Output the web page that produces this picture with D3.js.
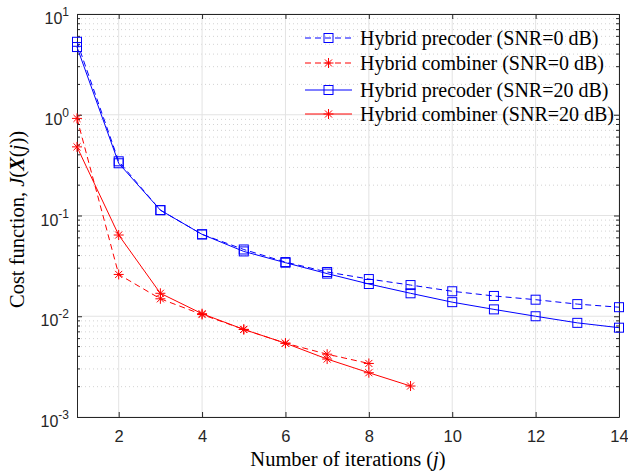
<!DOCTYPE html>
<html>
<head>
<meta charset="utf-8">
<script src="https://cdn.jsdelivr.net/npm/d3@7"></script>
<style>
  body { margin: 0; background: #fff; }
</style>
</head>
<body>
<div id="chart"></div>
<script>
const width = 628
const height = 472
const margin = {top: 14, right: 9, bottom: 55, left: 77}

/* iterations */
const iters = [1, 2, 3, 4, 5, 6, 7, 8, 9, 10, 11, 12, 13, 14]
const itersComb0 = [1, 2, 3, 4, 5, 6, 7, 8]
const itersComb20 = [1, 2, 3, 4, 5, 6, 7, 8, 9]

/* cost values */
const precoder0 = [5.3, 0.345, 0.113, 0.065, 0.046, 0.0345, 0.0275, 0.0234, 0.0204, 0.0177, 0.0159, 0.0146, 0.0132, 0.0123]
const combiner0 = [0.92, 0.026, 0.0149, 0.0104, 0.0074, 0.0054, 0.0042, 0.0034]
const precoder20 = [4.7, 0.33, 0.113, 0.065, 0.044, 0.034, 0.0265, 0.0209, 0.0169, 0.0138, 0.0117, 0.0100, 0.0086, 0.0077]
const combiner20 = [0.48, 0.064, 0.0169, 0.0106, 0.0074, 0.0054, 0.00376, 0.00275, 0.00203]

const series = [
    {name: 'Hybrid precoder (SNR=0 dB)', x: iters, y: precoder0, color: '#0000ff', dash: '6,4', marker: 'square'},
    {name: 'Hybrid combiner (SNR=0 dB)', x: itersComb0, y: combiner0, color: '#ff0000', dash: '6,4', marker: 'star'},
    {name: 'Hybrid precoder (SNR=20 dB)', x: iters, y: precoder20, color: '#0000ff', dash: null, marker: 'square'},
    {name: 'Hybrid combiner (SNR=20 dB)', x: itersComb20, y: combiner20, color: '#ff0000', dash: null, marker: 'star'},
]

const xTicks = [2, 4, 6, 8, 10, 12, 14]
const yDecades = [-3, -2, -1, 0, 1]

const x = d3.scaleLinear().domain([1, 14]).range([margin.left, width - margin.right])
const y = d3.scaleLog().domain([1e-3, 10]).range([height - margin.bottom, margin.top])

const svg = d3.select('#chart').append('svg').attr('width', width).attr('height', height)

const sans = 'Liberation Sans, Arial, sans-serif'
const serif = 'Liberation Serif, Times New Roman, serif'
const axisColor = '#262626'

/* minor grid */
const minor = []
yDecades.slice(0, -1).forEach(e => {
    for (let k = 2; k <= 9; k++) minor.push(k * Math.pow(10, e))
})
svg.append('g')
    .selectAll('line')
    .data(minor)
    .join('line')
    .attr('x1', x(1)).attr('x2', x(14))
    .attr('y1', d => y(d)).attr('y2', d => y(d))
    .attr('stroke', '#c8c8c8')
    .attr('stroke-width', 0.8)
    .attr('stroke-dasharray', '1,3')

/* major grid */
svg.append('g')
    .selectAll('line')
    .data(yDecades)
    .join('line')
    .attr('x1', x(1)).attr('x2', x(14))
    .attr('y1', d => y(Math.pow(10, d))).attr('y2', d => y(Math.pow(10, d)))
    .attr('stroke', '#e3e3e3')
    .attr('stroke-width', 1)
svg.append('g')
    .selectAll('line')
    .data(xTicks)
    .join('line')
    .attr('x1', d => x(d)).attr('x2', d => x(d))
    .attr('y1', y(1e-3)).attr('y2', y(10))
    .attr('stroke', '#e3e3e3')
    .attr('stroke-width', 1)

/* axes */
const xAxis = svg.append('g')
    .attr('transform', `translate(0,${y(1e-3)})`)
    .call(d3.axisBottom(x).tickValues(xTicks).tickSizeInner(-5).tickSizeOuter(0))
xAxis.select('.domain').attr('stroke', axisColor)
xAxis.selectAll('line').attr('stroke', axisColor)
xAxis.selectAll('text')
    .attr('y', 25)
    .attr('dy', null)
    .attr('font-family', sans)
    .attr('font-size', 16.5)
    .attr('fill', axisColor)

const xTop = svg.append('g')
    .attr('transform', `translate(0,${y(10)})`)
    .call(d3.axisTop(x).tickValues(xTicks).tickSizeInner(-5).tickSizeOuter(0).tickFormat(''))
xTop.select('.domain').attr('stroke', axisColor)
xTop.selectAll('line').attr('stroke', axisColor)

const yLeft = svg.append('g')
    .attr('transform', `translate(${x(1)},0)`)
    .call(d3.axisLeft(y).tickValues(yDecades.map(e => Math.pow(10, e))).tickSizeInner(-5).tickSizeOuter(0).tickFormat(''))
yLeft.select('.domain').attr('stroke', axisColor)
yLeft.selectAll('line').attr('stroke', axisColor)

const yRight = svg.append('g')
    .attr('transform', `translate(${x(14)},0)`)
    .call(d3.axisRight(y).tickValues(yDecades.map(e => Math.pow(10, e))).tickSizeInner(-5).tickSizeOuter(0).tickFormat(''))
yRight.select('.domain').attr('stroke', axisColor)
yRight.selectAll('line').attr('stroke', axisColor)

/* minor y ticks on both sides */
const minorTicks = svg.append('g').attr('stroke', axisColor).attr('stroke-width', 1)
minorTicks.selectAll('line.l')
    .data(minor)
    .join('line')
    .attr('class', 'l')
    .attr('x1', x(1)).attr('x2', x(1) + 3)
    .attr('y1', d => y(d)).attr('y2', d => y(d))
minorTicks.selectAll('line.r')
    .data(minor)
    .join('line')
    .attr('class', 'r')
    .attr('x1', x(14)).attr('x2', x(14) - 3)
    .attr('y1', d => y(d)).attr('y2', d => y(d))

/* y tick labels 10^e */
const yLabels = svg.append('g')
    .selectAll('text')
    .data(yDecades)
    .join('text')
    .attr('x', x(1) - 8)
    .attr('y', d => y(Math.pow(10, d)) + 10)
    .attr('text-anchor', 'end')
    .attr('font-family', sans)
    .attr('font-size', 16)
    .attr('fill', axisColor)
yLabels.append('tspan').text('10')
yLabels.append('tspan')
    .attr('dy', -8)
    .attr('font-size', 12)
    .text(d => d)

/* markers */
function drawMarker(g, type, color) {
    if (type === 'square') {
        g.append('rect')
            .attr('x', -4.5).attr('y', -4.5).attr('width', 9).attr('height', 9)
            .attr('fill', 'none').attr('stroke', color).attr('stroke-width', 1)
    } else {
        const r = 5
        const a = r * Math.SQRT1_2
        g.append('path')
            .attr('d', `M${-r},0H${r}M0,${-r}V${r}M${-a},${-a}L${a},${a}M${-a},${a}L${a},${-a}`)
            .attr('fill', 'none').attr('stroke', color).attr('stroke-width', 1)
    }
}

const line = d3.line().x(d => x(d[0])).y(d => y(d[1]))

series.forEach(s => {
    const pts = s.x.map((v, i) => [v, s.y[i]])
    const g = svg.append('g')
    g.append('path')
        .datum(pts)
        .attr('d', line)
        .attr('fill', 'none')
        .attr('stroke', s.color)
        .attr('stroke-width', 1)
        .attr('stroke-dasharray', s.dash)
    g.selectAll('g.m')
        .data(pts)
        .join('g')
        .attr('class', 'm')
        .attr('transform', d => `translate(${x(d[0])},${y(d[1])})`)
        .each(function () { drawMarker(d3.select(this), s.marker, s.color) })
})

/* legend */
const legendRows = [38, 63, 90, 114]
const legend = svg.append('g')
series.forEach((s, i) => {
    const row = legend.append('g').attr('transform', `translate(305,${legendRows[i]})`)
    row.append('line')
        .attr('x1', 0).attr('x2', 47)
        .attr('stroke', s.color)
        .attr('stroke-width', 1)
        .attr('stroke-dasharray', s.dash)
    drawMarker(row.append('g').attr('transform', 'translate(23.5,0)'), s.marker, s.color)
    row.append('text')
        .attr('x', 55)
        .attr('y', 7)
        .attr('font-family', serif)
        .attr('font-size', 20)
        .attr('fill', '#000')
        .text(s.name)
})

/* axis titles */
const xTitle = svg.append('text')
    .attr('x', (x(1) + x(14)) / 2)
    .attr('y', 466)
    .attr('text-anchor', 'middle')
    .attr('font-family', serif)
    .attr('font-size', 20.5)
    .attr('fill', '#000')
xTitle.append('tspan').text('Number of iterations (')
xTitle.append('tspan').attr('font-style', 'italic').text('j')
xTitle.append('tspan').text(')')

const yTitle = svg.append('text')
    .attr('transform', `translate(24,${(y(1e-3) + y(10)) / 2 + 4}) rotate(-90)`)
    .attr('text-anchor', 'middle')
    .attr('font-family', serif)
    .attr('font-size', 20.5)
    .attr('fill', '#000')
yTitle.append('tspan').text('Cost function, ')
yTitle.append('tspan').attr('font-style', 'italic').text('J')
yTitle.append('tspan').text('(')
yTitle.append('tspan').attr('font-style', 'italic').attr('font-weight', 'bold').text('X')
yTitle.append('tspan').text('(')
yTitle.append('tspan').attr('font-style', 'italic').text('j')
yTitle.append('tspan').text('))')
</script>
</body>
</html>
